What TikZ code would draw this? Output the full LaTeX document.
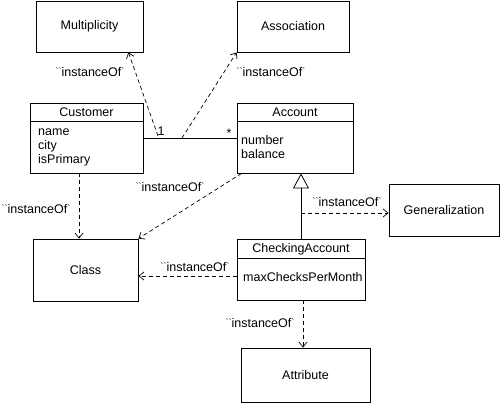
\documentclass[tikz,border=0pt]{standalone}
\usepackage{fontspec}
\setmainfont{Liberation Sans}
\usetikzlibrary{arrows.meta,calc}
\newcommand{\smallmark}[1]{\raisebox{2.2pt}{\fontsize{9}{9}\selectfont#1}}
\newcommand{\inst}{\smallmark{\textasciigrave\textasciigrave}instanceOf\smallmark{\textasciigrave}}
\begin{document}
\begin{tikzpicture}[x=1pt,y=-1pt,
  font=\fontsize{12.5}{14}\selectfont,
  box/.style={draw,line width=0.8pt,inner sep=0pt},
  txt/.style={inner sep=0pt},
  attrs/.style={inner sep=0pt,anchor=west,align=left,font=\fontsize{12.5}{14}\selectfont},
  dep/.style={draw,line width=0.7pt,dash pattern=on 4pt off 3pt,-{Straight Barb[length=5pt,width=8pt,line width=0.7pt]}},
  solid line/.style={draw,line width=0.8pt}]
\useasboundingbox (0,0) rectangle (500,404);
% simple boxes
\node[box,minimum width=107pt,minimum height=51pt] (mult) at (89.5,26.5) {Multiplicity};
\node[box,minimum width=112pt,minimum height=51pt] (assoc) at (293,26.5) {Association};
\node[box,minimum width=105pt,minimum height=62pt] (class) at (85.5,270) {Class};
\node[box,minimum width=110pt,minimum height=52pt] (gen) at (444,210) {Generalization};
\node[box,minimum width=129pt,minimum height=54pt] (attr) at (305.5,375) {Attribute};
% Customer
\node[box,minimum width=113pt,minimum height=70pt] (cust) at (86.5,138) {};
\node[txt] (custname) at (86.5,112) {Customer};
\draw[solid line] (30,121) -- (143,121);
\node[attrs] (custattr) at (38,147) {name\\city\\isPrimary};
% Account
\node[box,minimum width=116pt,minimum height=70pt] (acct) at (295,138) {};
\node[txt] (acctname) at (295,112) {Account};
\draw[solid line] (237,121) -- (353,121);
\node[attrs] (acctattr) at (241,147) {number\\balance};
% CheckingAccount
\node[box,minimum width=128pt,minimum height=61pt] (chk) at (301,269.5) {};
\node[txt] (chkname) at (301,249) {CheckingAccount};
\draw[solid line] (237,258) -- (365,258);
\node[attrs] (chkattr) at (243,277) {maxChecksPerMonth};
% association
\draw[solid line] (cust.east) -- (acct.west);
\node[txt] (one) at (161,131) {1};
\node[txt] (many) at (229,133) {*};
\coordinate (am) at (158,136);
\coordinate (aa) at (182,138);
\draw[dep] (am) -- ([xshift=-15pt]mult.south east);
\draw[dep] (aa) -- (assoc.south west);
\node[txt] (l1) at (90,72) {\inst};
\node[txt] (l2) at (271,72) {\inst};
% instanceOf Class
\draw[dep] ([xshift=-7.5pt]cust.south) -- ([xshift=-6.5pt]class.north);
\node[txt] (l3) at (36,209) {\inst};
\draw[dep] ([xshift=5pt]acct.south west) -- (class.north east);
\node[txt] (l4) at (170,187) {\inst};
\coordinate (cc) at ([yshift=-6.5pt]chk.west);
\draw[dep] (cc) -- (cc -| class.east);
\node[txt] (l5) at (195,267) {\inst};
% generalization
\draw[solid line,-{Triangle[open,length=15pt,width=16pt,line width=0.8pt]}] (chk.north) -- (chk.north |- acct.south);
\coordinate (gg) at (301,213);
\draw[dep] (gg) -- (gg -| gen.west);
\node[txt] (l6) at (347,202) {\inst};
% attribute
\coordinate (ca) at ([xshift=2pt]chk.south);
\draw[dep] (ca) -- (ca |- attr.north);
\node[txt] (l7) at (260,323) {\inst};
\end{tikzpicture}
\end{document}
